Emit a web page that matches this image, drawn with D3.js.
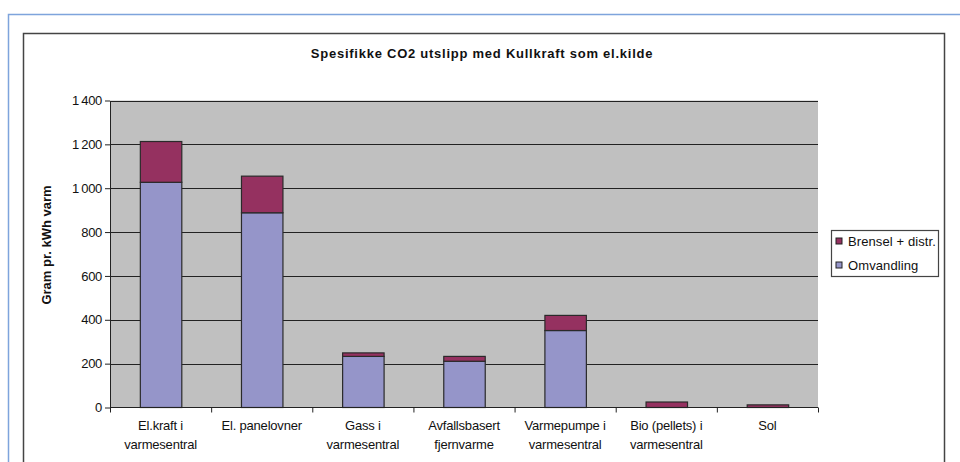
<!DOCTYPE html>
<html>
<head>
<meta charset="utf-8">
<script src="https://cdn.jsdelivr.net/npm/d3@7"></script>
<style>
  body { margin: 0; background: #fff; }
  svg { display: block; }
  text { font-family: "Liberation Sans", Arial, sans-serif; fill: #111; }
</style>
</head>
<body>
<div id="chart"></div>
<script>
var categories = [
    ["El.kraft i", "varmesentral"],
    ["El. panelovner"],
    ["Gass i", "varmesentral"],
    ["Avfallsbasert", "fjernvarme"],
    ["Varmepumpe i", "varmesentral"],
    ["Bio (pellets) i", "varmesentral"],
    ["Sol"]
];
var omvandling = [1027, 888, 233, 211, 351, 0, 0];
var brensel = [186, 167, 16, 22, 69, 25, 12];
var seriesNames = ["Omvandling", "Brensel + distr."];
var yTicks = [0, 200, 400, 600, 800, 1000, 1200, 1400];

var colorOmv = '#9595c9', colorBren = '#953160';

var width = 960, height = 462;
var plot = {left: 110, right: 818, top: 100.5, bottom: 407.5};

var svg = d3.select("#chart").append("svg")
    .attr("width", width)
    .attr("height", height);

// outer blue frame and inner chart frame
svg.append("path")
    .attr("d", "M8.5,470 V14.5 H970")
    .style("fill", "none")
    .style("stroke", "#7ea4dc")
    .style("stroke-width", 1.5);
svg.append("rect")
    .attr("x", 23.5).attr("y", 33.5)
    .attr("width", 921).attr("height", 460)
    .style("fill", "#fff")
    .style("stroke", "#444")
    .style("stroke-width", 1.5);

svg.append("text")
    .attr("x", 482).attr("y", 58)
    .attr("text-anchor", "middle")
    .style("font-size", "13px")
    .style("font-weight", "bold")
    .style("letter-spacing", "0.75px")
    .text("Spesifikke CO2 utslipp med Kullkraft som el.kilde");

var x = d3.scaleBand()
    .domain(d3.range(categories.length))
    .range([plot.left, plot.right])
    .paddingInner(0.59)
    .paddingOuter(0.295);

var y = d3.scaleLinear()
    .domain([0, 1400])
    .range([plot.bottom, plot.top]);

svg.append("rect")
    .attr("x", plot.left).attr("y", plot.top)
    .attr("width", plot.right - plot.left)
    .attr("height", plot.bottom - plot.top)
    .style("fill", "#c0c0c0");

svg.append("g").selectAll("line")
    .data(yTicks.slice(1))
    .enter().append("line")
    .attr("x1", plot.left).attr("x2", plot.right)
    .attr("y1", function(d) { return Math.round(y(d)) + 0.5; })
    .attr("y2", function(d) { return Math.round(y(d)) + 0.5; })
    .style("stroke", "#222")
    .style("stroke-width", 1.2);

// y axis
var fmt = function(d) { return d >= 1000 ? d3.format(",")(d).replace(",", "\u2009") : d; };
var yAxis = svg.append("g")
    .attr("transform", "translate(" + plot.left + ",0)")
    .call(d3.axisLeft(y).tickValues(yTicks).tickSize(5).tickSizeOuter(0).tickFormat(fmt));
yAxis.select(".domain").style("stroke", "#222");
yAxis.selectAll("line").style("stroke", "#222");
yAxis.selectAll("text")
    .style("font-size", "13px")
    .style("letter-spacing", "-0.3px")
    .style("font-family", "'Liberation Sans', Arial, sans-serif")
    .style("fill", "#111")
    .attr("x", -8);

svg.append("text")
    .attr("transform", "translate(51,245) rotate(-90)")
    .attr("text-anchor", "middle")
    .style("font-size", "13px")
    .style("font-weight", "bold")
    .text("Gram pr. kWh varm");

// stacked bars
var rows = categories.map(function(c, i) {
    return {i: i, "Omvandling": omvandling[i], "Brensel + distr.": brensel[i]};
});
var stack = d3.stack().keys(seriesNames)(rows);
var colors = [colorOmv, colorBren];

svg.append("g").selectAll("g")
    .data(stack)
    .enter().append("g")
    .style("fill", function(d, k) { return colors[k]; })
    .selectAll("rect")
    .data(function(d) { return d.filter(function(p) { return p[1] - p[0] > 0; }); })
    .enter().append("rect")
    .attr("x", function(d) { return x(d.data.i) + 0.5; })
    .attr("y", function(d) { return y(d[1]); })
    .attr("width", x.bandwidth())
    .attr("height", function(d) { return y(d[0]) - y(d[1]); })
    .style("stroke", "#2a2a2a")
    .style("stroke-width", 1.2);

// x axis
svg.append("line")
    .attr("x1", plot.left).attr("x2", plot.right)
    .attr("y1", plot.bottom).attr("y2", plot.bottom)
    .style("stroke", "#222");
svg.append("g").selectAll("line")
    .data(d3.range(categories.length + 1))
    .enter().append("line")
    .attr("x1", function(d) { return plot.left + d * x.step() + 0.5; })
    .attr("x2", function(d) { return plot.left + d * x.step() + 0.5; })
    .attr("y1", plot.bottom).attr("y2", plot.bottom + 5)
    .style("stroke", "#222");

var labels = svg.append("g").selectAll("text")
    .data(categories)
    .enter().append("text")
    .attr("text-anchor", "middle")
    .attr("x", function(d, i) { return x(i) + x.bandwidth() / 2; })
    .attr("y", 430)
    .style("font-size", "13px")
    .style("letter-spacing", "-0.2px");
labels.selectAll("tspan")
    .data(function(d) { return d; })
    .enter().append("tspan")
    .attr("x", function() { return d3.select(this.parentNode).attr("x"); })
    .attr("dy", function(d, j) { return j ? 19 : 0; })
    .text(function(d) { return d; });

// legend
var legend = svg.append("g");
legend.append("rect")
    .attr("x", 831.5).attr("y", 230.5)
    .attr("width", 107).attr("height", 46)
    .style("fill", "#fff")
    .style("stroke", "#444")
    .style("stroke-width", 1.2);
var legItems = [{name: seriesNames[1], color: colorBren}, {name: seriesNames[0], color: colorOmv}];
var li = legend.selectAll(".li")
    .data(legItems)
    .enter().append("g")
    .attr("transform", function(d, i) { return "translate(836," + (238 + i * 24) + ")"; });
li.append("rect")
    .attr("width", 6).attr("height", 6)
    .style("fill", function(d) { return d.color; })
    .style("stroke", "#222");
li.append("text")
    .attr("x", 12).attr("y", 7.5)
    .style("font-size", "13px")
    .style("letter-spacing", "0.1px")
    .text(function(d) { return d.name; });
</script>
</body>
</html>
